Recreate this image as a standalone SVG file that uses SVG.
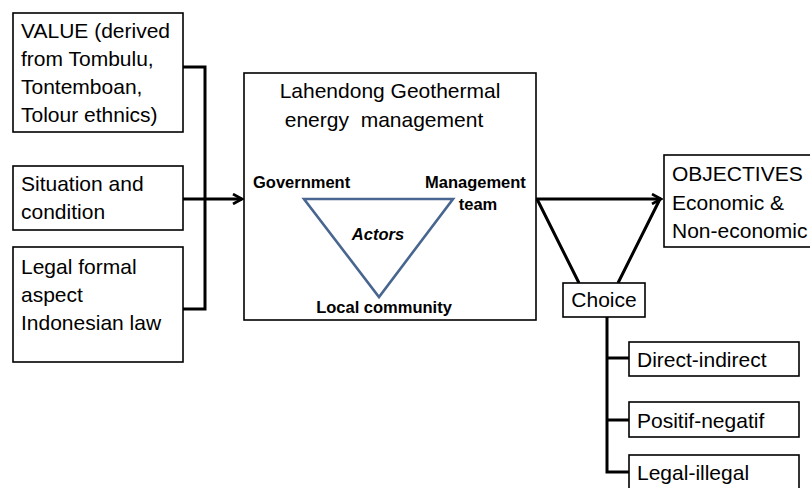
<svg xmlns="http://www.w3.org/2000/svg" width="810" height="488" viewBox="0 0 810 488">
<defs>
<style>
.box{fill:#fff;stroke:#000;stroke-width:1.6}
.t{font-family:"Liberation Sans",Arial,sans-serif;font-size:21px;fill:#000}
.b{font-family:"Liberation Sans",Arial,sans-serif;font-size:16.5px;font-weight:bold;fill:#000}
.c{fill:none;stroke:#000;stroke-width:3}
</style>
<marker id="arr" markerWidth="12" markerHeight="12" refX="10" refY="6" orient="auto" markerUnits="userSpaceOnUse">
<path d="M1,1 L10,6 L1,11" fill="none" stroke="#000" stroke-width="2.6"/>
</marker>
</defs>
<rect width="810" height="488" fill="#fff"/>
<g id="connectors">
<path class="c" d="M183,67 H205 V309 H183"/>
<line class="c" x1="183" y1="199" x2="242" y2="199" marker-end="url(#arr)"/>
<line class="c" x1="536" y1="199" x2="661" y2="199" marker-end="url(#arr)"/>
<path class="c" d="M537,199 L579,283 M660,199 L618,283"/>
<path class="c" d="M607,317 V472 H629 M607,358 H629 M607,420 H629"/>
</g>
<g id="value">
<rect class="box" x="13" y="13" width="170" height="119"/>
<text class="t" x="21" y="38">VALUE (derived</text>
<text class="t" x="21" y="66">from Tombulu,</text>
<text class="t" x="21" y="94">Tontemboan,</text>
<text class="t" x="21" y="122">Tolour ethnics)</text>
</g>
<g id="situation">
<rect class="box" x="13" y="166" width="170" height="64"/>
<text class="t" x="21" y="191">Situation and</text>
<text class="t" x="21" y="219">condition</text>
</g>
<g id="legal">
<rect class="box" x="13" y="247" width="170" height="115"/>
<text class="t" x="21" y="274">Legal formal</text>
<text class="t" x="21" y="302">aspect</text>
<text class="t" x="21" y="330">Indonesian law</text>
</g>
<g id="management">
<rect class="box" x="244" y="73" width="292" height="247"/>
<text class="t" x="390" y="98" text-anchor="middle">Lahendong Geothermal</text>
<text class="t" x="384" y="127" text-anchor="middle" xml:space="preserve">energy  management</text>
<polygon points="304,199 453,199 379,297" fill="none" stroke="#48668f" stroke-width="2.6" stroke-linejoin="miter"/>
<text class="b" x="253" y="188">Government</text>
<text class="b" x="425" y="188">Management</text>
<text class="b" x="478" y="210" text-anchor="middle">team</text>
<text class="b" x="378" y="240" text-anchor="middle" font-style="italic">Actors</text>
<text class="b" x="384" y="313" text-anchor="middle">Local community</text>
</g>
<g id="objectives">
<rect class="box" x="664" y="155" width="160" height="92"/>
<text class="t" x="672" y="181">OBJECTIVES</text>
<text class="t" x="672" y="210">Economic &amp;</text>
<text class="t" x="672" y="238">Non-economic</text>
</g>
<g id="choice">
<rect class="box" x="563" y="283" width="82" height="34"/>
<text class="t" x="604" y="307" text-anchor="middle">Choice</text>
</g>
<g id="direct">
<rect class="box" x="629" y="342" width="170" height="34"/>
<text class="t" x="637" y="367">Direct-indirect</text>
</g>
<g id="positif">
<rect class="box" x="629" y="402" width="170" height="35"/>
<text class="t" x="637" y="428">Positif-negatif</text>
</g>
<g id="legalillegal">
<rect class="box" x="629" y="455" width="170" height="45"/>
<text class="t" x="637" y="480">Legal-illegal</text>
</g>
</svg>
